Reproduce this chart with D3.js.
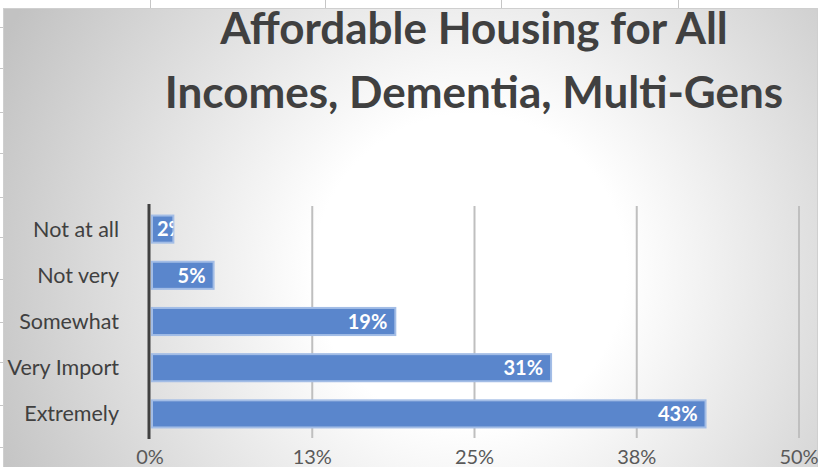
<!DOCTYPE html>
<html>
<head>
<meta charset="utf-8">
<script src="https://cdn.jsdelivr.net/npm/d3@7"></script>
<style>
  html, body { margin: 0; padding: 0; background: #fff; }
  svg { display: block; }
  text { font-family: Lato, "Open Sans", sans-serif; }
</style>
</head>
<body>
<div id="chart"></div>
<script>
// data
const categories = ["Not at all", "Not very", "Somewhat", "Very Import", "Extremely"];
const shares = [0.018, 0.049, 0.189, 0.309, 0.428];
const tickValues = [0, 0.125, 0.25, 0.375, 0.5];
const titleLines = ["Affordable Housing for All", "Incomes, Dementia, Multi-Gens"];

const W = 824, H = 467;

const svg = d3.select("#chart").append("svg")
    .attr("width", W)
    .attr("height", H);

// spreadsheet cell lines peeking around the chart object
const sheet = svg.append("g").attr("stroke", "#c6c6c6").attr("stroke-width", 1);
[150, 325, 501, 678].forEach(x => {
    sheet.append("line").attr("x1", x + 0.5).attr("x2", x + 0.5).attr("y1", 0).attr("y2", 8);
});
[27, 68, 112, 153, 197, 237, 279, 322, 362, 405, 447].forEach(y => {
    sheet.append("line").attr("x1", 0).attr("x2", 3).attr("y1", y + 0.5).attr("y2", y + 0.5);
});

// radial background
const defs = svg.append("defs");
const grad = defs.append("radialGradient")
    .attr("id", "bgGrad")
    .attr("gradientUnits", "userSpaceOnUse")
    .attr("cx", 470).attr("cy", 270).attr("r", 520);
grad.append("stop").attr("offset", "0%").attr("stop-color", "#ffffff");
grad.append("stop").attr("offset", "30%").attr("stop-color", "#ffffff");
grad.append("stop").attr("offset", "100%").attr("stop-color", "#c2c2c2");

svg.append("rect")
    .attr("x", 3.5).attr("y", 8.5)
    .attr("width", 814).attr("height", 470)
    .attr("fill", "url(#bgGrad)")
    .attr("stroke", "#cfcfcf")
    .attr("stroke-width", 1);

// title
const title = svg.append("text")
    .attr("text-anchor", "middle")
    .attr("fill", "#404040")
    .style("font-weight", "bold")
    .style("font-size", "44px");
titleLines.forEach((t, i) => {
    title.append("tspan")
        .attr("x", 474)
        .attr("y", 44 + i * 64)
        .text(t);
});

// scales
const x = d3.scaleLinear().domain([0, 0.5]).range([150, 799]);
const y = d3.scaleBand()
    .domain(categories)
    .range([206, 437])
    .paddingInner(0.37)
    .paddingOuter(0.185);

// vertical gridlines
svg.append("g")
    .selectAll("line")
    .data(tickValues.slice(1))
    .join("line")
    .attr("x1", d => x(d)).attr("x2", d => x(d))
    .attr("y1", 206).attr("y2", 438)
    .attr("stroke", "#bfbfbf")
    .attr("stroke-width", 2);

// x tick labels
svg.append("g")
    .selectAll("text")
    .data(tickValues)
    .join("text")
    .attr("x", d => x(d))
    .attr("y", 464)
    .attr("text-anchor", "middle")
    .attr("fill", "#595959")
    .style("font-size", "20px")
    .text(d => d3.format(".0%")(d));

// category labels
svg.append("g")
    .selectAll("text")
    .data(categories)
    .join("text")
    .attr("x", 119)
    .attr("y", d => y(d) + y.bandwidth() / 2)
    .attr("dy", "0.35em")
    .attr("text-anchor", "end")
    .attr("fill", "#404040")
    .style("font-size", "21.5px")
    .text(d => d);

// bars
const bars = svg.append("g");
bars.selectAll("rect")
    .data(shares)
    .join("rect")
    .attr("x", x(0) + 2)
    .attr("y", (d, i) => y(categories[i]) + 1)
    .attr("width", d => x(d) - x(0) - 2)
    .attr("height", y.bandwidth() - 2)
    .attr("fill", "#5a86cc")
    .attr("stroke", "#a3bde6")
    .attr("stroke-width", 2);

// bar labels, clipped to the bar
shares.forEach((d, i) => {
    const id = "clip" + i;
    defs.append("clipPath").attr("id", id)
        .append("rect")
        .attr("x", x(0) + 2)
        .attr("y", y(categories[i]))
        .attr("width", x(d) - x(0) - 2)
        .attr("height", y.bandwidth());

    const label = svg.append("text")
        .attr("clip-path", `url(#${id})`)
        .attr("y", y(categories[i]) + y.bandwidth() / 2)
        .attr("dy", "0.36em")
        .attr("fill", "#ffffff")
        .style("font-weight", "bold")
        .style("font-size", "20px")
        .text(d3.format(".0%")(d));

    const tw = label.node().getComputedTextLength();
    const end = x(d) - 8;
    label.attr("x", Math.max(x(0) + 7, end - tw));
});

// value axis line
svg.append("line")
    .attr("x1", 149).attr("x2", 149)
    .attr("y1", 204).attr("y2", 439)
    .attr("stroke", "#404040")
    .attr("stroke-width", 3);
</script>
</body>
</html>
